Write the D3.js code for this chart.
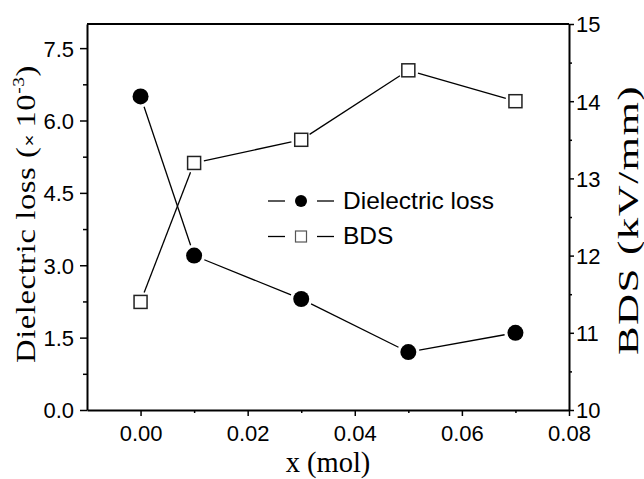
<!DOCTYPE html>
<html>
<head>
<meta charset="utf-8">
<script src="https://cdn.jsdelivr.net/npm/d3@7"></script>
<style>
  body { margin: 0; background: #fff; }
  svg { display: block; }
  .tick text { font-family: "Liberation Sans", Arial, sans-serif; font-size: 22px; fill: #000; }
  .domain { stroke: #000; stroke-width: 2px; }
  .tick line { stroke: #000; stroke-width: 1.5px; }
</style>
</head>
<body>
<div id="chart"></div>
<script>
// Data
const xValues = [0.00, 0.01, 0.03, 0.05, 0.07];
const lossValues = [6.5, 3.2, 2.3, 1.2, 1.6];
const bdsValues = [11.4, 13.2, 13.5, 14.4, 14.0];
const seriesNames = ["Dielectric loss", "BDS"];
const xTicks = [0.00, 0.02, 0.04, 0.06, 0.08];
const lossTicks = [0, 1.5, 3.0, 4.5, 6.0, 7.5];
const bdsTicks = [10, 11, 12, 13, 14, 15];

const W = 644, H = 479;
const margin = { top: 24, right: 75, bottom: 69, left: 87 };
const width = W - margin.left - margin.right;
const height = H - margin.top - margin.bottom;

const svg = d3.select("#chart").append("svg")
    .attr("width", W)
    .attr("height", H);
const g = svg.append("g").attr("transform", `translate(${margin.left},${margin.top})`);

const x = d3.scaleLinear().domain([-0.01, 0.08]).range([0, width]);
const yL = d3.scaleLinear().domain([0, 8]).range([height, 0]);
const yR = d3.scaleLinear().domain([10, 15]).range([height, 0]);

// minor ticks
g.append("g").attr("transform", `translate(0,${height})`)
    .call(d3.axisBottom(x).tickValues(d3.range(0.01, 0.08, 0.02)).tickSize(3).tickFormat(""))
    .call(a => a.select(".domain").remove());
g.append("g")
    .call(d3.axisLeft(yL).tickValues(d3.range(0.75, 8, 1.5)).tickSize(4).tickFormat(""))
    .call(a => a.select(".domain").remove());
g.append("g").attr("transform", `translate(${width},0)`)
    .call(d3.axisRight(yR).tickValues(d3.range(10.5, 15, 1)).tickSize(3).tickFormat(""))
    .call(a => a.select(".domain").remove());

// major axes
g.append("g").attr("transform", `translate(0,${height})`)
    .call(d3.axisBottom(x).tickValues(xTicks).tickSize(6).tickSizeOuter(0).tickPadding(9).tickFormat(d3.format(".2f")));
g.append("g")
    .call(d3.axisLeft(yL).tickValues(lossTicks).tickSize(7).tickSizeOuter(0).tickPadding(6).tickFormat(d3.format(".1f")))
    .selectAll(".tick text").attr("dy", "0.36em");
g.append("g").attr("transform", `translate(${width},0)`)
    .call(d3.axisRight(yR).tickValues(bdsTicks).tickSize(5).tickSizeOuter(0).tickPadding(2).tickFormat(d3.format("d")))
    .selectAll(".tick text").attr("dy", "0.36em");

// top frame
g.append("line").attr("x1", 0).attr("x2", width).attr("y1", 0).attr("y2", 0)
    .attr("stroke", "#000").attr("stroke-width", 2);

// line segments with gaps around markers
function gappedSegments(xs, ys, yScale, gap) {
  const pts = xs.map((v, i) => [x(v), yScale(ys[i])]);
  const segs = [];
  for (let i = 0; i < pts.length - 1; i++) {
    const [x0, y0] = pts[i], [x1, y1] = pts[i + 1];
    const len = Math.hypot(x1 - x0, y1 - y0);
    const ux = (x1 - x0) / len, uy = (y1 - y0) / len;
    segs.push([x0 + ux * gap, y0 + uy * gap, x1 - ux * gap, y1 - uy * gap]);
  }
  return segs;
}

function drawSeries(ys, yScale, gap) {
  g.append("g").selectAll("line").data(gappedSegments(xValues, ys, yScale, gap)).enter().append("line")
      .attr("x1", d => d[0]).attr("y1", d => d[1])
      .attr("x2", d => d[2]).attr("y2", d => d[3])
      .attr("stroke", "#000").attr("stroke-width", 1.3);
}

drawSeries(lossValues, yL, 11);
drawSeries(bdsValues, yR, 10);

g.append("g").selectAll("circle").data(lossValues).enter().append("circle")
    .attr("cx", (d, i) => x(xValues[i]))
    .attr("cy", d => yL(d))
    .attr("r", 8)
    .attr("fill", "#000");

const sq = 13;
g.append("g").selectAll("rect").data(bdsValues).enter().append("rect")
    .attr("x", (d, i) => x(xValues[i]) - sq / 2)
    .attr("y", d => yR(d) - sq / 2)
    .attr("width", sq).attr("height", sq)
    .attr("fill", "#fff").attr("stroke", "#222").attr("stroke-width", 1.5);

// legend
const legend = svg.append("g").attr("transform", "translate(268,201)");
seriesNames.forEach((name, i) => {
  const row = legend.append("g").attr("transform", `translate(0,${i * 35.5})`);
  row.append("line").attr("x1", 0).attr("x2", 17).attr("y1", 0).attr("y2", 0).attr("stroke", "#000").attr("stroke-width", 1.3);
  row.append("line").attr("x1", 49).attr("x2", 66).attr("y1", 0).attr("y2", 0).attr("stroke", "#000").attr("stroke-width", 1.3);
  if (i === 0) {
    row.append("circle").attr("cx", 33).attr("cy", 0).attr("r", 6).attr("fill", "#000");
  } else {
    row.append("rect").attr("x", 27.5).attr("y", -5.5).attr("width", 11).attr("height", 11)
        .attr("fill", "#fff").attr("stroke", "#555").attr("stroke-width", 1.2);
  }
  row.append("text").attr("x", 75).attr("y", 7.5)
      .attr("font-family", "Liberation Sans, Arial, sans-serif")
      .attr("font-size", 24.5)
      .text(name);
});

// axis titles
svg.append("text")
    .attr("x", margin.left + width / 2).attr("y", 472)
    .attr("text-anchor", "middle")
    .attr("font-family", "Liberation Serif, Times New Roman, serif")
    .attr("font-size", 28.5)
    .text("x (mol)");

const leftTitle = svg.append("text")
    .attr("transform", "translate(35,214) rotate(-90)")
    .attr("text-anchor", "middle")
    .attr("textLength", 298)
    .attr("lengthAdjust", "spacingAndGlyphs")
    .attr("letter-spacing", 0.5)
    .attr("font-family", "Liberation Serif, Times New Roman, serif")
    .attr("font-size", 27);
leftTitle.append("tspan").text("Dielectric loss (");
leftTitle.append("tspan").attr("font-family", "Liberation Sans, Arial, sans-serif").attr("font-size", 17).text("× ");
leftTitle.append("tspan").text("10");
leftTitle.append("tspan").attr("font-size", 16).attr("dy", -11).text("-3");
leftTitle.append("tspan").attr("dy", 11).text(")");

svg.append("text")
    .attr("transform", "translate(638,220) rotate(-90)")
    .attr("text-anchor", "middle")
    .attr("textLength", 270)
    .attr("lengthAdjust", "spacingAndGlyphs")
    .attr("letter-spacing", 1)
    .attr("font-family", "Liberation Serif, Times New Roman, serif")
    .attr("font-size", 29.5)
    .text("BDS (kV/mm)");
</script>
</body>
</html>
